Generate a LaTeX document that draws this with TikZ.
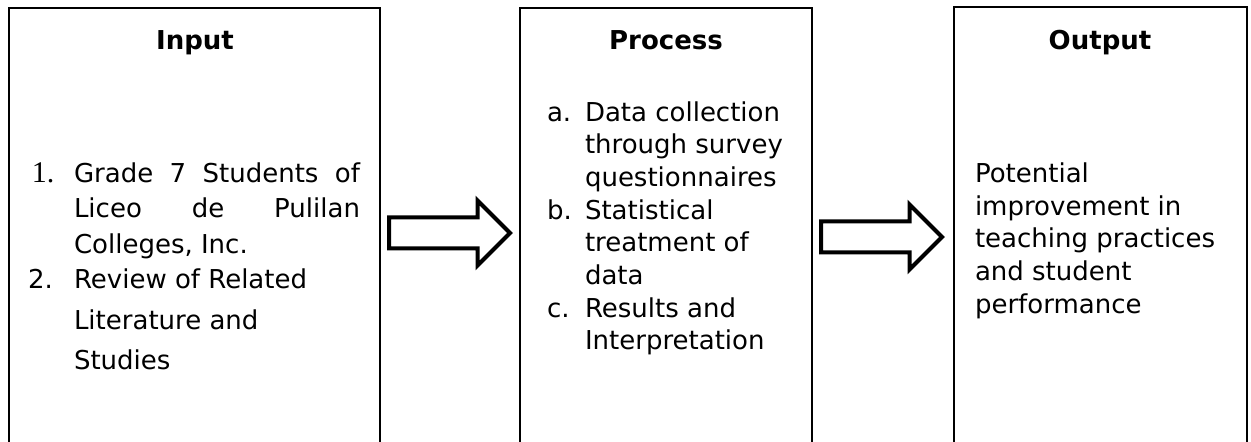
\documentclass[tikz,border=0pt]{standalone}
\usepackage{fontspec}
\setmainfont{DejaVu Sans}
\newfontfamily\numfont{Liberation Serif}
\usetikzlibrary{positioning}
\usetikzlibrary{shapes.arrows}

\begin{document}
\begin{tikzpicture}[x=0.5pt, y=-0.5pt,
  every node/.style={font=\fontsize{13pt}{16pt}\selectfont, inner sep=0pt, outer sep=0pt},
  panel/.style={draw, line width=1pt, anchor=north west, minimum height=226pt},
  heading/.style={anchor=base, font=\fontsize{13pt}{16pt}\selectfont\bfseries},
  txt/.style={anchor=base west},
  flowarrow/.style={single arrow, draw, line width=2pt, inner xsep=0pt, inner ysep=6.75pt,
    single arrow head extend=8.5pt, minimum height=60.5pt}]

  \clip (0,0) rectangle (1251,442);

  % Blocks
  \node[panel, minimum width=185.5pt] (input) at (9,8) {};
  \node[panel, minimum width=146pt] (process) at (520,8) {};
  \node[panel, minimum width=146.5pt] (output) at (954,7) {};

  % Arrows
  \node[flowarrow, right=4.5pt of input.east, anchor=west, yshift=0.5pt] (arrowa) {};
  \node[flowarrow, right=4.5pt of process.east, anchor=west, yshift=-1.5pt] (arrowb) {};

  % Input
  \node[heading] (intitle) at (195,50) {Input};
  \node[txt] (innuma) at (32,183) {\numfont\fontsize{15pt}{16pt}\selectfont 1.};
  \node[txt] (inla) at (74,183) {\hbox to 143pt{Grade\hfill 7\hfill Students\hfill of}};
  \node[txt] (inlb) at (74,218) {\hbox to 143pt{Liceo\hfill de\hfill Pulilan}};
  \node[txt] (inlc) at (74,254) {Colleges, Inc.};
  \node[txt] (innumb) at (28,289) {2.};
  \node[txt] (inld) at (74,289) {Review of Related};
  \node[txt] (inle) at (74,330) {Literature and};
  \node[txt] (inlf) at (74,370) {Studies};

  % Process
  \node[heading] (prtitle) at (666,50) {Process};
  \node[txt] (prnuma) at (547,122) {a.};
  \node[txt] (prla) at (585,122) {Data collection};
  \node[txt] (prlb) at (585,154) {through survey};
  \node[txt] (prlc) at (585,187) {questionnaires};
  \node[txt] (prnumb) at (547,220) {b.};
  \node[txt] (prld) at (585,220) {Statistical};
  \node[txt] (prle) at (585,252) {treatment of};
  \node[txt] (prlf) at (585,285) {data};
  \node[txt] (prnumc) at (547,318) {c.};
  \node[txt] (prlg) at (585,318) {Results and};
  \node[txt] (prlh) at (585,350) {Interpretation};

  % Output
  \node[heading] (outtitle) at (1100,50) {Output};
  \node[txt] (outla) at (975,183) {Potential};
  \node[txt] (outlb) at (975,216) {improvement in};
  \node[txt] (outlc) at (975,248) {teaching practices};
  \node[txt] (outld) at (975,281) {and student};
  \node[txt] (outle) at (975,314) {performance};

\end{tikzpicture}
\end{document}
